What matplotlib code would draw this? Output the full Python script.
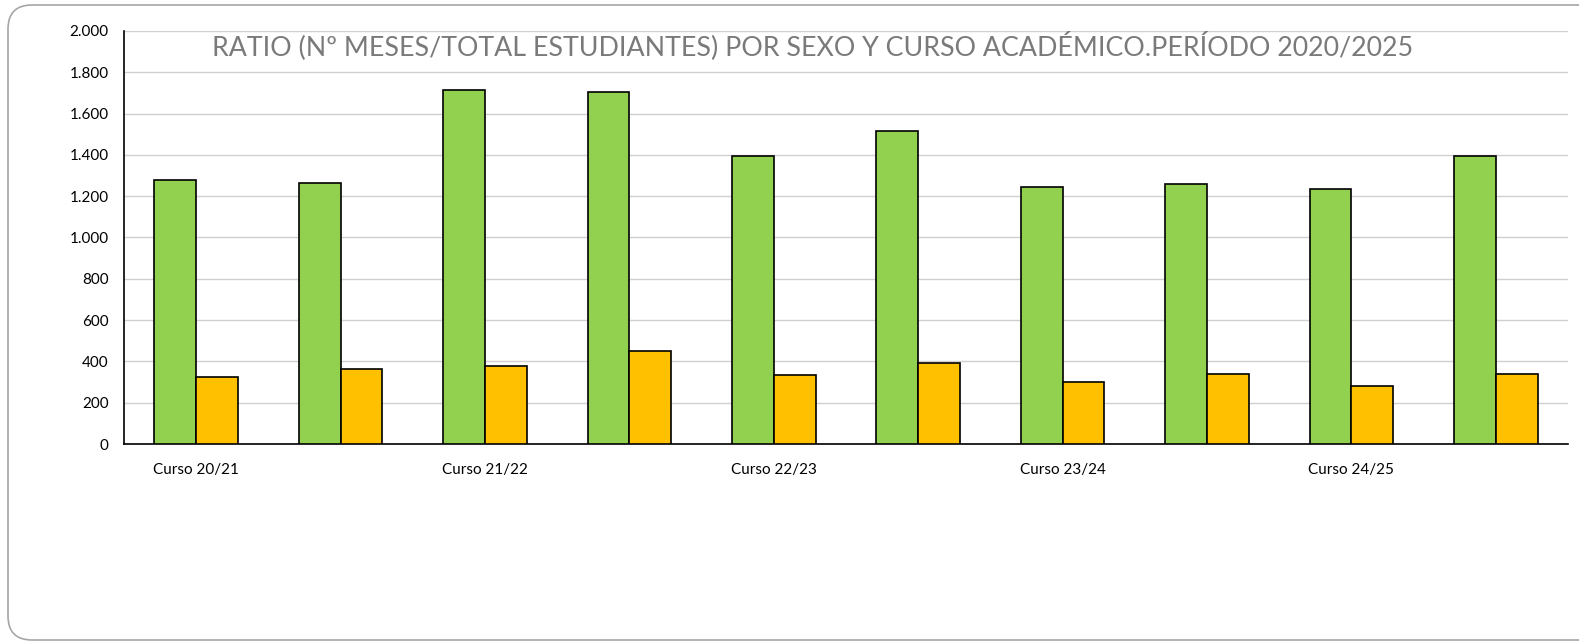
import matplotlib
matplotlib.use("Agg")
import matplotlib.pyplot as plt
from matplotlib.patches import FancyBboxPatch
from matplotlib.transforms import IdentityTransform
from matplotlib.ticker import FuncFormatter, MultipleLocator
import numpy as np

# datos
categorias = ["Curso 20/21", "", "Curso 21/22", "", "Curso 22/23", "",
              "Curso 23/24", "", "Curso 24/25", ""]
serie_verde = [1279, 1262, 1712, 1704, 1396, 1517, 1246, 1259, 1233, 1395]
serie_naranja = [324, 362, 378, 449, 335, 391, 301, 338, 282, 337]
titulo = "RATIO (Nº MESES/TOTAL ESTUDIANTES) POR SEXO Y CURSO ACADÉMICO.PERÍODO 2020/2025"

plt.rcParams['font.family'] = ['Lato', 'DejaVu Sans']

fig = plt.figure(figsize=(15.79, 6.41), dpi=100)
ax = fig.add_axes([124 / 1579, 197 / 641, 1444 / 1579, 413 / 641])

x = np.arange(len(categorias))
ancho = 0.29
ax.bar(x - ancho / 2, serie_verde, ancho, color='#92D050', edgecolor='black', linewidth=1.2, zorder=3)
ax.bar(x + ancho / 2, serie_naranja, ancho, color='#FFC000', edgecolor='black', linewidth=1.2, zorder=3)

ax.set_xlim(-0.5, len(categorias) - 0.5)
ax.set_ylim(0, 2000)
ax.yaxis.set_major_locator(MultipleLocator(200))
ax.yaxis.set_major_formatter(FuncFormatter(lambda v, p: f"{int(v):,}".replace(",", ".")))
ax.set_xticks(x)
ax.set_xticklabels(categorias)
ax.tick_params(axis='both', length=0, labelsize=11, colors='black')
ax.tick_params(axis='x', pad=14)
ax.tick_params(axis='y', pad=11)

ax.grid(axis='y', color='#d0d0d0', linewidth=1, zorder=0)
for s in ['top', 'right']:
    ax.spines[s].set_visible(False)
ax.spines['left'].set_color('black')
ax.spines['bottom'].set_color('black')
ax.spines['left'].set_linewidth(1.2)
ax.spines['bottom'].set_linewidth(1.2)

fig.text(813 / 1579, (641 - 46) / 641, titulo, ha='center', va='center',
         fontsize=19.3, color='#7a7a7a')

# marco redondeado del grafico
marco = FancyBboxPatch((8, 1), 1640, 635, boxstyle="round,pad=0,rounding_size=24",
                       transform=IdentityTransform(), facecolor='none',
                       edgecolor='#a6a6a6', linewidth=1.2)
fig.patches.append(marco)

fig.savefig("out.png", dpi=100)
